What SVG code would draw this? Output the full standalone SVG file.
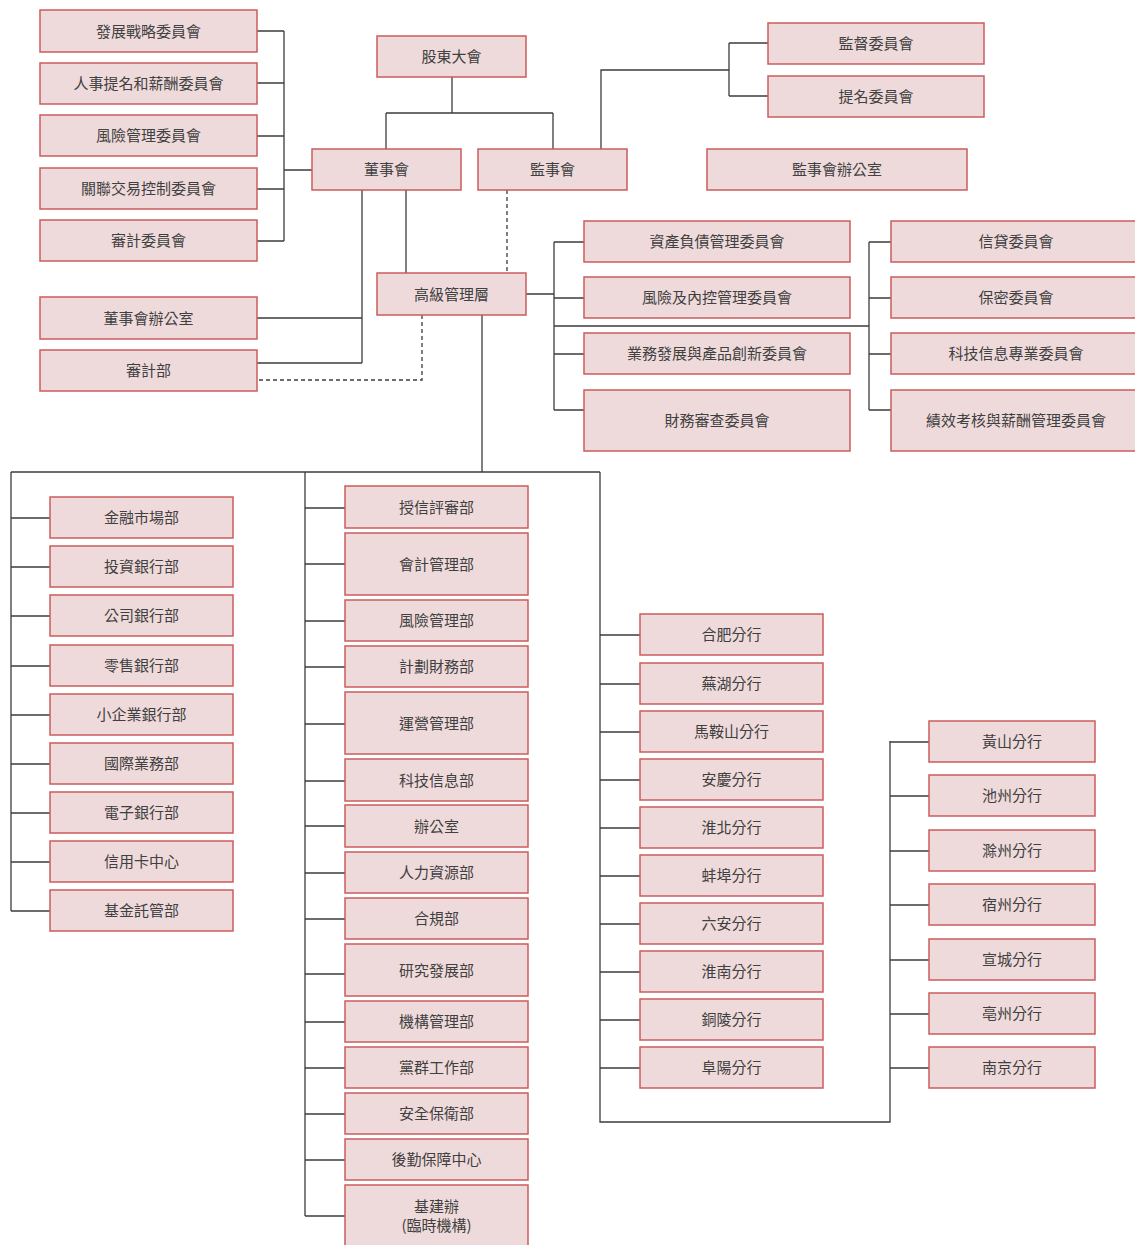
<svg xmlns="http://www.w3.org/2000/svg" width="1135" height="1245" viewBox="0 0 1135 1245">
<style>
.n rect{fill:#efdadb;stroke:#cb5c5e;stroke-width:1.5}
.n text{font-family:"Noto Sans CJK TC","Noto Sans CJK SC",sans-serif;font-size:15px;fill:#404040;text-anchor:middle;dominant-baseline:central;transform:translate(0px,-1px)}
.c path{fill:none;stroke:#3c3c3c;stroke-width:1.3}
.c path.d{stroke-dasharray:4 3}
</style>
<rect width="1135" height="1245" fill="#ffffff"/>
<g class="c" id="connectors">
<path d="M257 31H284M257 83H284M257 136H284M257 189H284M257 241H284M284 31V241M284 170H312"/>
<path d="M452 77V113M386 113H553M386 113V149M553 113V149"/>
<path d="M601 149V70H729M729 43V96M729 43H768M729 96H768"/>
<path d="M362 190V363M257 318H362M257 363H362M406 190V273"/>
<path class="d" d="M507 190V273"/>
<path class="d" d="M422 315V380H257"/>
<path d="M526 294H554M554 242V410M554 242H584M554 298H584M554 354H584M554 410H584M554 326H869M869 242V410M869 242H891M869 298H891M869 354H891M869 410H891"/>
<path d="M482 315V472M11 472H600"/>
<path d="M11 472V911M11 518H50M11 567H50M11 616H50M11 666H50M11 715H50M11 764H50M11 813H50M11 862H50M11 911H50"/>
<path d="M305 472V1216M305 508H345M305 564H345M305 621H345M305 667H345M305 724H345M305 781H345M305 826H345M305 873H345M305 919H345M305 974H345M305 1022H345M305 1068H345M305 1114H345M305 1160H345M305 1216H345"/>
<path d="M600 472V1122H890V741M600 635H640M600 684H640M600 732H640M600 780H640M600 828H640M600 876H640M600 924H640M600 972H640M600 1020H640M600 1068H640"/>
<path d="M890 742H929M890 796H929M890 851H929M890 905H929M890 960H929M890 1014H929M890 1068H929"/>
</g>
<g class="n" id="n-fzzl"><rect x="40" y="10" width="217" height="42"/><text x="148.5" y="31">發展戰略委員會</text></g>
<g class="n" id="n-rstm"><rect x="40" y="63" width="217" height="41"/><text x="148.5" y="83.5">人事提名和薪酬委員會</text></g>
<g class="n" id="n-fxgl"><rect x="40" y="115" width="217" height="41"/><text x="148.5" y="135.5">風險管理委員會</text></g>
<g class="n" id="n-gljy"><rect x="40" y="168" width="217" height="41"/><text x="148.5" y="188.5">關聯交易控制委員會</text></g>
<g class="n" id="n-sjwy"><rect x="40" y="220" width="217" height="41"/><text x="148.5" y="240.5">審計委員會</text></g>
<g class="n" id="n-dshbgs"><rect x="40" y="297" width="217" height="42"/><text x="148.5" y="318">董事會辦公室</text></g>
<g class="n" id="n-sjb"><rect x="40" y="350" width="217" height="41"/><text x="148.5" y="370.5">審計部</text></g>
<g class="n" id="n-gddh"><rect x="377" y="36" width="149" height="41"/><text x="451.5" y="56.5">股東大會</text></g>
<g class="n" id="n-dsh"><rect x="312" y="149" width="149" height="41"/><text x="386.5" y="169.5">董事會</text></g>
<g class="n" id="n-jsh"><rect x="478" y="149" width="149" height="41"/><text x="552.5" y="169.5">監事會</text></g>
<g class="n" id="n-jshbgs"><rect x="707" y="149" width="260" height="41"/><text x="837" y="169.5">監事會辦公室</text></g>
<g class="n" id="n-jdwy"><rect x="768" y="23" width="216" height="41"/><text x="876" y="43.5">監督委員會</text></g>
<g class="n" id="n-tmwy"><rect x="768" y="76" width="216" height="41"/><text x="876" y="96.5">提名委員會</text></g>
<g class="n" id="n-gjgl"><rect x="377" y="273" width="149" height="42"/><text x="451.5" y="294">高級管理層</text></g>
<g class="n" id="n-zcfz"><rect x="584" y="221" width="266" height="41"/><text x="717" y="241.5">資產負債管理委員會</text></g>
<g class="n" id="n-fxnk"><rect x="584" y="277" width="266" height="41"/><text x="717" y="297.5">風險及內控管理委員會</text></g>
<g class="n" id="n-ywfz"><rect x="584" y="333" width="266" height="41"/><text x="717" y="353.5">業務發展與產品創新委員會</text></g>
<g class="n" id="n-cwsc"><rect x="584" y="390" width="266" height="61"/><text x="717" y="420.5">財務審查委員會</text></g>
<g class="n" id="n-xdwy"><rect x="891" y="221" width="250" height="41"/><text x="1016" y="241.5">信貸委員會</text></g>
<g class="n" id="n-bmwy"><rect x="891" y="277" width="250" height="41"/><text x="1016" y="297.5">保密委員會</text></g>
<g class="n" id="n-kjxx"><rect x="891" y="333" width="250" height="41"/><text x="1016" y="353.5">科技信息專業委員會</text></g>
<g class="n" id="n-jxkh"><rect x="891" y="390" width="250" height="61"/><text x="1016" y="420.5">績效考核與薪酬管理委員會</text></g>
<g class="n" id="n-jrsc"><rect x="50" y="497" width="183" height="41"/><text x="141.5" y="517.5">金融市場部</text></g>
<g class="n" id="n-tzyh"><rect x="50" y="546" width="183" height="41"/><text x="141.5" y="566.5">投資銀行部</text></g>
<g class="n" id="n-gsyh"><rect x="50" y="595" width="183" height="41"/><text x="141.5" y="615.5">公司銀行部</text></g>
<g class="n" id="n-lsyh"><rect x="50" y="645" width="183" height="41"/><text x="141.5" y="665.5">零售銀行部</text></g>
<g class="n" id="n-xqy"><rect x="50" y="694" width="183" height="41"/><text x="141.5" y="714.5">小企業銀行部</text></g>
<g class="n" id="n-gjyw"><rect x="50" y="743" width="183" height="41"/><text x="141.5" y="763.5">國際業務部</text></g>
<g class="n" id="n-dzyh"><rect x="50" y="792" width="183" height="41"/><text x="141.5" y="812.5">電子銀行部</text></g>
<g class="n" id="n-xykzx"><rect x="50" y="841" width="183" height="41"/><text x="141.5" y="861.5">信用卡中心</text></g>
<g class="n" id="n-jjtg"><rect x="50" y="890" width="183" height="41"/><text x="141.5" y="910.5">基金託管部</text></g>
<g class="n" id="n-sxps"><rect x="345" y="486" width="183" height="42"/><text x="436.5" y="507">授信評審部</text></g>
<g class="n" id="n-kjgl"><rect x="345" y="533" width="183" height="62"/><text x="436.5" y="564">會計管理部</text></g>
<g class="n" id="n-fxglb"><rect x="345" y="600" width="183" height="41"/><text x="436.5" y="620.5">風險管理部</text></g>
<g class="n" id="n-jhcw"><rect x="345" y="646" width="183" height="41"/><text x="436.5" y="666.5">計劃財務部</text></g>
<g class="n" id="n-yygl"><rect x="345" y="692" width="183" height="62"/><text x="436.5" y="723">運營管理部</text></g>
<g class="n" id="n-kjxxb"><rect x="345" y="759" width="183" height="42"/><text x="436.5" y="780">科技信息部</text></g>
<g class="n" id="n-bgs"><rect x="345" y="805" width="183" height="42"/><text x="436.5" y="826">辦公室</text></g>
<g class="n" id="n-rlzy"><rect x="345" y="852" width="183" height="41"/><text x="436.5" y="872.5">人力資源部</text></g>
<g class="n" id="n-hgb"><rect x="345" y="898" width="183" height="41"/><text x="436.5" y="918.5">合規部</text></g>
<g class="n" id="n-yjfz"><rect x="345" y="944" width="183" height="52"/><text x="436.5" y="970">研究發展部</text></g>
<g class="n" id="n-jggl"><rect x="345" y="1001" width="183" height="41"/><text x="436.5" y="1021.5">機構管理部</text></g>
<g class="n" id="n-dqgz"><rect x="345" y="1047" width="183" height="41"/><text x="436.5" y="1067.5">黨群工作部</text></g>
<g class="n" id="n-aqbw"><rect x="345" y="1093" width="183" height="41"/><text x="436.5" y="1113.5">安全保衛部</text></g>
<g class="n" id="n-hqbz"><rect x="345" y="1139" width="183" height="41"/><text x="436.5" y="1159.5">後勤保障中心</text></g>
<g class="n" id="n-jjb"><rect x="345" y="1185" width="183" height="70"/><text x="436.5" y="1206">基建辦</text><text x="436.5" y="1225">(臨時機構)</text></g>
<g class="n" id="n-hf"><rect x="640" y="614" width="183" height="41"/><text x="731.5" y="634.5">合肥分行</text></g>
<g class="n" id="n-wh"><rect x="640" y="663" width="183" height="41"/><text x="731.5" y="683.5">蕪湖分行</text></g>
<g class="n" id="n-mas"><rect x="640" y="711" width="183" height="41"/><text x="731.5" y="731.5">馬鞍山分行</text></g>
<g class="n" id="n-aq"><rect x="640" y="759" width="183" height="41"/><text x="731.5" y="779.5">安慶分行</text></g>
<g class="n" id="n-hb"><rect x="640" y="807" width="183" height="41"/><text x="731.5" y="827.5">淮北分行</text></g>
<g class="n" id="n-bb"><rect x="640" y="855" width="183" height="41"/><text x="731.5" y="875.5">蚌埠分行</text></g>
<g class="n" id="n-la"><rect x="640" y="903" width="183" height="41"/><text x="731.5" y="923.5">六安分行</text></g>
<g class="n" id="n-hn"><rect x="640" y="951" width="183" height="41"/><text x="731.5" y="971.5">淮南分行</text></g>
<g class="n" id="n-tl"><rect x="640" y="999" width="183" height="41"/><text x="731.5" y="1019.5">銅陵分行</text></g>
<g class="n" id="n-fy"><rect x="640" y="1047" width="183" height="41"/><text x="731.5" y="1067.5">阜陽分行</text></g>
<g class="n" id="n-hs"><rect x="929" y="721" width="166" height="41"/><text x="1012" y="741.5">黃山分行</text></g>
<g class="n" id="n-cz"><rect x="929" y="775" width="166" height="41"/><text x="1012" y="795.5">池州分行</text></g>
<g class="n" id="n-chz"><rect x="929" y="830" width="166" height="41"/><text x="1012" y="850.5">滁州分行</text></g>
<g class="n" id="n-sz"><rect x="929" y="884" width="166" height="41"/><text x="1012" y="904.5">宿州分行</text></g>
<g class="n" id="n-xc"><rect x="929" y="939" width="166" height="41"/><text x="1012" y="959.5">宣城分行</text></g>
<g class="n" id="n-bz"><rect x="929" y="993" width="166" height="41"/><text x="1012" y="1013.5">亳州分行</text></g>
<g class="n" id="n-nj"><rect x="929" y="1047" width="166" height="41"/><text x="1012" y="1067.5">南京分行</text></g>
</svg>
